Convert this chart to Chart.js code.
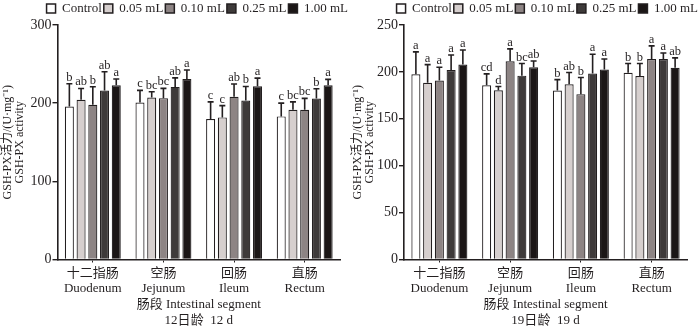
<!DOCTYPE html>
<html>
<head>
<meta charset="utf-8">
<script src="https://cdn.jsdelivr.net/npm/chart.js@4.4.0/dist/chart.umd.min.js"></script>
<style>
  html, body { margin: 0; padding: 0; background: #fff; }
  .wrap { position: absolute; top: 0; width: 350px; height: 329px; }
  #w1 { left: 0; }
  #w2 { left: 350px; }
</style>
</head>
<body>
<div class="wrap" id="w1"><canvas id="c1"></canvas></div>
<div class="wrap" id="w2"><canvas id="c2"></canvas></div>
<script>
// ---------- data ----------
const categories = [["十二指肠", "Duodenum"], ["空肠", "Jejunum"], ["回肠", "Ileum"], ["直肠", "Rectum"]];
const seriesNames = ["Control", "0.05 mL", "0.10 mL", "0.25 mL", "1.00 mL"];

// 12 d
const d12_control = [195.8, 200.9, 179.7, 183.1];
const d12_005 = [204.3, 207.2, 181.8, 191.6];
const d12_010 = [198.0, 206.4, 208.1, 191.6];
const d12_025 = [216.1, 220.8, 203.4, 206.0];
const d12_100 = [222.9, 231.0, 221.6, 222.9];
const d12_sd_control = [29.0, 15.5, 22.0, 17.0];
const d12_sd_005 = [14.5, 7.5, 15.0, 10.0];
const d12_sd_010 = [23.0, 12.5, 16.5, 14.5];
const d12_sd_025 = [24.0, 11.5, 18.0, 12.5];
const d12_sd_100 = [8.0, 11.5, 10.5, 7.5];
const d12_sig_control = ["b", "c", "c", "c"];
const d12_sig_005 = ["ab", "bc", "c", "bc"];
const d12_sig_010 = ["b", "bc", "ab", "bc"];
const d12_sig_025 = ["ab", "ab", "b", "b"];
const d12_sig_100 = ["a", "a", "a", "a"];
const d12_ticks = [0, 100, 200, 300];

// 19 d
const d19_control = [197.5, 185.8, 180.1, 199.0];
const d19_005 = [188.3, 180.5, 186.9, 195.7];
const d19_010 = [190.8, 211.4, 176.3, 213.8];
const d19_025 = [202.0, 196.0, 198.2, 213.8];
const d19_100 = [207.8, 205.0, 202.5, 204.3];
const d19_sd_control = [23.8, 12.1, 11.7, 9.9];
const d19_sd_005 = [19.5, 3.9, 12.4, 13.2];
const d19_sd_010 = [14.2, 13.1, 17.7, 13.9];
const d19_sd_025 = [16.0, 12.9, 20.6, 6.4];
const d19_sd_100 = [15.6, 6.7, 11.3, 10.6];
const d19_sig_control = ["a", "cd", "b", "b"];
const d19_sig_005 = ["a", "d", "ab", "b"];
const d19_sig_010 = ["a", "a", "b", "a"];
const d19_sig_025 = ["a", "bc", "a", "a"];
const d19_sig_100 = ["a", "ab", "a", "ab"];
const d19_ticks = [0, 50, 100, 150, 200, 250];

// ---------- style ----------
const AX = "#231f20";
const fills = ["#ffffff", "#d6cfce", "#8d8484", "#3e3a3a", "#1b1616"];
const SERIF = "'Liberation Serif', 'Times New Roman', 'Noto Sans CJK SC', serif";

const errorBarPlugin = {
  id: "errbars",
  afterDatasetsDraw(chart) {
    const ctx = chart.ctx;
    const y = chart.scales.y;
    ctx.save();
    chart.data.datasets.forEach((ds, di) => {
      const meta = chart.getDatasetMeta(di);
      meta.data.forEach((bar, i) => {
        const top = ds.data[i] + ds.sd[i];
        const yTop = y.getPixelForValue(top);
        ctx.strokeStyle = AX;
        ctx.lineWidth = 1.6;
        ctx.beginPath();
        ctx.moveTo(bar.x, bar.y);
        ctx.lineTo(bar.x, yTop);
        ctx.moveTo(bar.x - 3, yTop);
        ctx.lineTo(bar.x + 3, yTop);
        ctx.stroke();
        ctx.fillStyle = AX;
        ctx.font = "12.5px " + SERIF;
        ctx.textAlign = "center";
        ctx.textBaseline = "alphabetic";
        ctx.fillText(ds.sig[i], bar.x, yTop - 3);
      });
    });
    ctx.restore();
  }
};

function makeChart(id, sets, ticks, axisW, rightGap, titleLine2) {
  const datasets = sets.map((s, k) => ({
    label: seriesNames[k],
    data: s.v,
    sd: s.sd,
    sig: s.sig,
    xAxisID: "x",
    yAxisID: "y",
    backgroundColor: fills[k],
    borderColor: AX,
    borderWidth: 1.2,
    categoryPercentage: 0.83,
    barPercentage: 0.77
  }));
  return new Chart(document.getElementById(id), {
    type: "bar",
    data: { labels: categories, datasets },
    plugins: [errorBarPlugin],
    options: {
      responsive: true,
      maintainAspectRatio: false,
      animation: false,
      layout: { padding: 0 },
      plugins: {
        tooltip: { enabled: false },
        legend: {
          position: "top",
          align: "end",
          labels: {
            boxWidth: 9, boxHeight: 9, padding: 2,
            color: AX,
            font: { family: SERIF, size: 13 },
            generateLabels(chart) {
              return chart.data.datasets.map((ds, i) => ({
                text: ds.label, fillStyle: ds.backgroundColor, strokeStyle: AX,
                lineWidth: 1.5, datasetIndex: i, fontColor: AX
              }));
            }
          }
        }
      },
      scales: {
        x: {
          grid: { display: true, drawOnChartArea: false, drawTicks: true, tickLength: 3, offset: false, color: AX, lineWidth: 1 },
          border: { display: true, color: AX, width: 1.6 },
          ticks: { color: AX, font: { family: SERIF, size: 13, lineHeight: 1.2 }, padding: 3, maxRotation: 0, autoSkip: false },
          title: {
            display: true, text: ["肠段 Intestinal segment", titleLine2], color: AX,
            font: { family: SERIF, size: 13, lineHeight: 1.25 }, padding: { top: 0, bottom: 0 }
          },
          afterFit(scale) { scale.height = 69.5; }
        },
        y: {
          min: 0, max: ticks[ticks.length - 1],
          afterBuildTicks(scale) { scale.ticks = ticks.map(v => ({ value: v })); },
          grid: { display: true, drawOnChartArea: false, drawTicks: true, tickLength: 5, color: AX, lineWidth: 1.4 },
          border: { display: true, color: AX, width: 1.6 },
          ticks: { color: AX, font: { family: SERIF, size: 14 }, padding: 1 },
          title: {
            display: true, text: ["GSH-PX活力/(U·mg⁻¹)", "GSH-PX activity"], color: AX,
            font: { family: SERIF, size: 12, lineHeight: 1.0 }, padding: { top: 2, bottom: 0 }
          },
          afterFit(scale) { scale.width = axisW; }
        },
        xTopGap: {
          type: "category", position: "top", display: true,
          grid: { display: false }, border: { display: false }, ticks: { display: false },
          afterFit(scale) {
            const lh = scale.chart.legend ? scale.chart.legend.height : 17;
            scale.height = Math.max(0, 24 - lh);
          }
        },
        yRightGap: {
          type: "linear", position: "right", display: true,
          grid: { display: false }, border: { display: false }, ticks: { display: false },
          afterFit(scale) { scale.width = rightGap; }
        }
      }
    }
  });
}

makeChart("c1", [
  { v: d12_control, sd: d12_sd_control, sig: d12_sig_control },
  { v: d12_005, sd: d12_sd_005, sig: d12_sig_005 },
  { v: d12_010, sd: d12_sd_010, sig: d12_sig_010 },
  { v: d12_025, sd: d12_sd_025, sig: d12_sig_025 },
  { v: d12_100, sd: d12_sd_100, sig: d12_sig_100 }
], d12_ticks, 57.5, 10, "12日龄  12 d");

makeChart("c2", [
  { v: d19_control, sd: d19_sd_control, sig: d19_sig_control },
  { v: d19_005, sd: d19_sd_005, sig: d19_sig_005 },
  { v: d19_010, sd: d19_sd_010, sig: d19_sig_010 },
  { v: d19_025, sd: d19_sd_025, sig: d19_sig_025 },
  { v: d19_100, sd: d19_sd_100, sig: d19_sig_100 }
], d19_ticks, 54, 13, "19日龄  19 d");
</script>
</body>
</html>
